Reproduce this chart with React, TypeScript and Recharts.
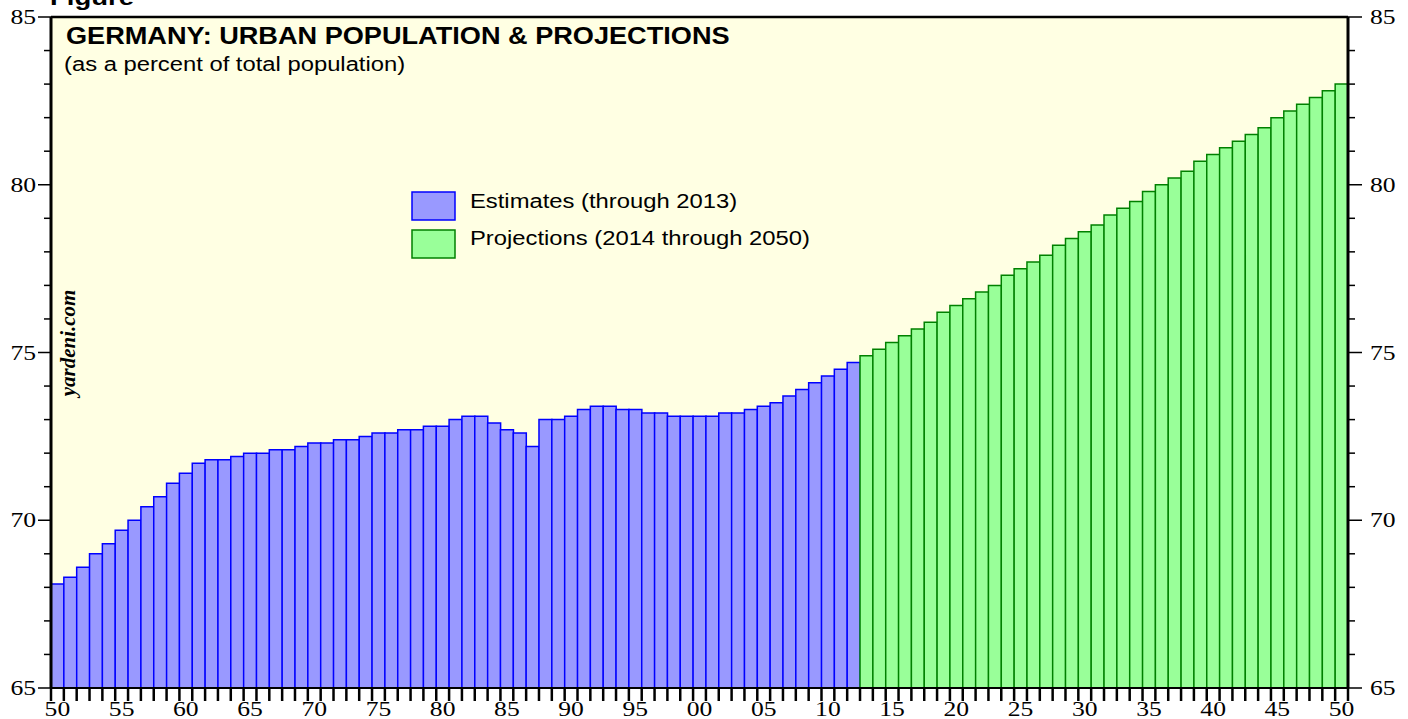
import { BarChart, Bar, Cell, XAxis, YAxis, CartesianGrid, ReferenceLine } from 'recharts';

// urban population, % of total
const FIRST_YEAR = 1950;
const estimates = [
    68.1, 68.3, 68.6, 69.0, 69.3, 69.7, 70.0, 70.4, 70.7, 71.1,
    71.4, 71.7, 71.8, 71.8, 71.9, 72.0, 72.0, 72.1, 72.1, 72.2,
    72.3, 72.3, 72.4, 72.4, 72.5, 72.6, 72.6, 72.7, 72.7, 72.8,
    72.8, 73.0, 73.1, 73.1, 72.9, 72.7, 72.6, 72.2, 73.0, 73.0,
    73.1, 73.3, 73.4, 73.4, 73.3, 73.3, 73.2, 73.2, 73.1, 73.1,
    73.1, 73.1, 73.2, 73.2, 73.3, 73.4, 73.5, 73.7, 73.9, 74.1,
    74.3, 74.5, 74.7,
];
const projections = [
    74.9, 75.1, 75.3, 75.5, 75.7, 75.9, 76.2, 76.4, 76.6, 76.8,
    77.0, 77.3, 77.5, 77.7, 77.9, 78.2, 78.4, 78.6, 78.8, 79.1,
    79.3, 79.5, 79.8, 80.0, 80.2, 80.4, 80.7, 80.9, 81.1, 81.3,
    81.5, 81.7, 82.0, 82.2, 82.4, 82.6, 82.8, 83.0,
];
const yTicks = [65, 66, 67, 68, 69, 70, 71, 72, 73, 74, 75, 76, 77, 78, 79, 80, 81, 82, 83, 84, 85];
const yLabels = [65, 70, 75, 80, 85];
const legendItems = ['Estimates (through 2013)', 'Projections (2014 through 2050)'];

const W = 1408;
const H = 719;
const LEFT = 51;
const RIGHT_W = 60;
const BAND = (W - LEFT - RIGHT_W) / (estimates.length + projections.length);
const SX = 1.25; // the original is stretched sideways
const TSX = 1.19; // header/legend text stretch

const BLUE = '#0000ff';
const BLUE_FILL = '#9999ff';
const GREEN = '#008000';
const GREEN_FILL = '#99ff99';
const BG = '#ffffe3';
const SANS = '"Liberation Sans", Arial, Helvetica, sans-serif';
const SERIF = '"Liberation Serif", "Times New Roman", serif';

const rows = [...estimates, ...projections].map((v, i) => ({
    year: FIRST_YEAR + i,
    value: v,
    proj: i >= estimates.length,
}));

function LeftTick(props: any) {
    const { x, y, payload } = props;
    const major = yLabels.includes(payload.value);
    return (
        <g>
            <line x1={x} x2={x - (major ? 13 : 7)} y1={y} y2={y} stroke="#000" strokeWidth={1.5} />
            {major && (
                <text transform={`translate(${x - 15},${y + 7}) scale(${SX},1)`} textAnchor="end"
                    fontFamily={SERIF} fontSize={20.5} fill="#000">{payload.value}</text>
            )}
        </g>
    );
}

function RightTick(props: any) {
    const { x, y, payload } = props;
    const major = yLabels.includes(payload.value);
    return (
        <g>
            <line x1={x} x2={x + (major ? 14 : 7)} y1={y} y2={y} stroke="#000" strokeWidth={1.5} />
            {major && (
                <text transform={`translate(${x + 22},${y + 7}) scale(${SX},1)`} textAnchor="start"
                    fontFamily={SERIF} fontSize={20.5} fill="#000">{payload.value}</text>
            )}
        </g>
    );
}

function YearTick(props: any) {
    const { x, y, payload, index } = props;
    const yr = payload.value as number;
    const left = x - BAND / 2;
    const last = index === rows.length - 1;
    return (
        <g>
            <line x1={left} x2={left} y1={y} y2={y + 13} stroke="#000" strokeWidth={2.5} />
            {last && <line x1={left + BAND} x2={left + BAND} y1={y} y2={y + 13} stroke="#000" strokeWidth={2.5} />}
            {yr % 5 === 0 && (
                <text transform={`translate(${x},${y + 28}) scale(${SX},1)`} textAnchor="middle"
                    fontFamily={SERIF} fontSize={20.5} fill="#000">{String(yr).slice(2)}</text>
            )}
        </g>
    );
}

export default function App() {
    return (
        <div style={{ position: 'absolute', left: 0, top: 0, width: W, height: H, background: '#fff', overflow: 'hidden' }}>
            <BarChart width={W} height={H} data={rows} margin={{ top: 17, right: 0, bottom: 0, left: 0 }}
                barCategoryGap={0} barGap={0}>
                <CartesianGrid fill={BG} stroke="none" horizontal={false} vertical={false} />
                <XAxis dataKey="year" height={31} interval={0} tickLine={false} tickSize={0} tickMargin={0}
                    axisLine={{ stroke: '#000', strokeWidth: 2 }} tick={YearTick} />
                <YAxis yAxisId="l" orientation="left" width={LEFT} domain={[65, 85]} ticks={yTicks} interval={0}
                    allowDataOverflow tickLine={false} tickSize={0} tickMargin={0}
                    axisLine={{ stroke: '#000', strokeWidth: 3 }} tick={LeftTick} />
                <YAxis yAxisId="r" orientation="right" width={RIGHT_W} domain={[65, 85]} ticks={yTicks} interval={0}
                    allowDataOverflow tickLine={false} tickSize={0} tickMargin={0}
                    axisLine={{ stroke: '#000', strokeWidth: 3 }} tick={RightTick} />
                <Bar yAxisId="l" dataKey="value" isAnimationActive={false} strokeWidth={1.5}>
                    {rows.map((r) => (
                        <Cell key={r.year} fill={r.proj ? GREEN_FILL : BLUE_FILL} stroke={r.proj ? GREEN : BLUE} />
                    ))}
                </Bar>
                <ReferenceLine yAxisId="l" y={85} stroke="#000" strokeWidth={2.5} />
            </BarChart>

            <svg width={W} height={H} style={{ position: 'absolute', left: 0, top: 0, pointerEvents: 'none' }}>
                <text transform={`translate(50,5) scale(${SX},1)`} fontFamily={SANS} fontWeight="bold" fontSize={22}>Figure</text>
                <text transform={`translate(66,44) scale(1.18,1)`} fontFamily={SANS} fontWeight="bold" fontSize={23}>
                    GERMANY: URBAN POPULATION &amp; PROJECTIONS
                </text>
                <text transform={`translate(64,71) scale(${TSX},1)`} fontFamily={SANS} fontSize={20}>
                    (as a percent of total population)
                </text>
                <text transform="translate(75,343) rotate(-90)" textAnchor="middle" fontFamily={SERIF}
                    fontWeight="bold" fontStyle="italic" fontSize={21}>yardeni.com</text>

                <rect x={412} y={192} width={43} height={28} fill={BLUE_FILL} stroke={BLUE} strokeWidth={1.5} />
                <text transform={`translate(470,208) scale(${TSX},1)`} fontFamily={SANS} fontSize={20}>{legendItems[0]}</text>
                <rect x={412} y={230} width={43} height={28} fill={GREEN_FILL} stroke={GREEN} strokeWidth={1.5} />
                <text transform={`translate(470,245) scale(${TSX},1)`} fontFamily={SANS} fontSize={20}>{legendItems[1]}</text>
            </svg>
        </div>
    );
}
